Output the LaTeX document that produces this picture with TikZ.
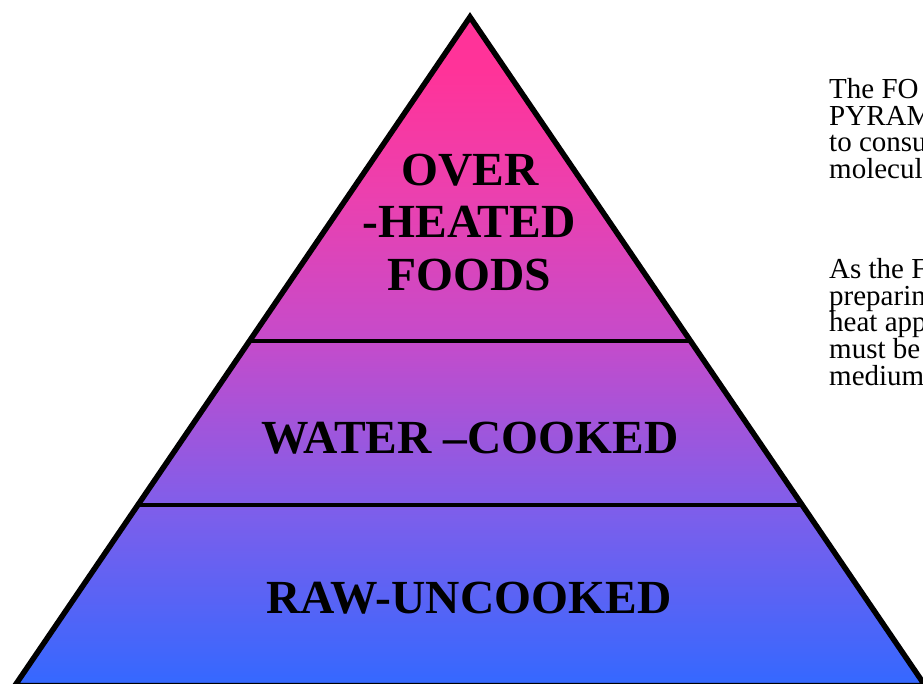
\documentclass[tikz,border=0pt]{standalone}
\usepackage{fontspec}
\setmainfont{Liberation Serif}
\usetikzlibrary{calc}
\definecolor{pyrpink}{HTML}{FF3399}
\definecolor{pyrrose}{RGB}{236,64,174}
\definecolor{pyrmid}{RGB}{198,75,202}
\definecolor{pyrviolet}{RGB}{128,94,234}
\definecolor{pyrblue}{RGB}{52,104,255}
% 25bp..75bp is stretched over the pyramid, bottom to top
\pgfdeclareverticalshading{pyramidfade}{100bp}{%
  color(0bp)=(pyrblue); color(25bp)=(pyrblue); color(38.5bp)=(pyrviolet);
  color(51bp)=(pyrmid); color(62bp)=(pyrrose); color(71bp)=(pyrpink);
  color(100bp)=(pyrpink)}
\tikzset{
  tierlabel/.style={anchor=base,inner sep=0pt,font=\bfseries\fontsize{47.5}{52}\selectfont},
  sidetext/.style={anchor=base west,inner sep=0pt,font=\fontsize{29}{27}\selectfont},
  divider/.style={line width=4.7pt},
}

\begin{document}
\begin{tikzpicture}[x=1pt,y=-1pt]
  \useasboundingbox (0,0) rectangle (923,683);
  \clip (0,0) rectangle (923,683);
  \coordinate (apex) at (470,17);
  \coordinate (bl) at (15,685.5);
  \coordinate (br) at (925,685.5);
  \shade[shading=pyramidfade] (apex) -- (bl) -- (br) -- cycle;
  % tier dividers
  \foreach \t/\n in {0.4847/upper, 0.7300/lower} {
    \coordinate (\n-l) at ($(apex)!\t!(bl)$);
    \coordinate (\n-r) at ($(apex)!\t!(br)$);
    \draw[divider] (\n-l) -- (\n-r);
  }
  \draw[line width=5.5pt,line join=miter] (apex) -- (bl) -- (br) -- cycle;
  \node[tierlabel] (over) at (470,185) {OVER};
  \node[tierlabel] (heated) at (469,237) {-HEATED};
  \node[tierlabel] (foods) at (469,290) {FOODS};
  \node[tierlabel] (water) at (470,453) {WATER –COOKED};
  \node[tierlabel] (raw) at (469,613) {RAW-UNCOOKED};
  % text beside the pyramid, cut at the right edge
  \foreach \y/\s [count=\i] in {98/The FO, 125/PYRAM, 151.5/to consu, 178/molecul,
                               278/As the F, 305/preparin, 331.5/heat app, 358/must be, 385/medium} {
    \node[sidetext] (side\i) at (829,\y) {\s};
  }
\end{tikzpicture}
\end{document}
